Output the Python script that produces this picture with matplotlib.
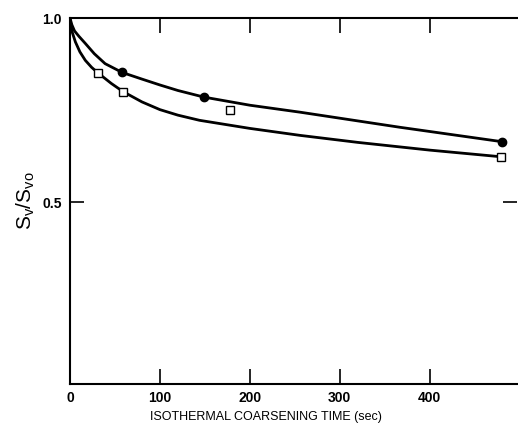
import matplotlib
matplotlib.use("Agg")
import matplotlib.pyplot as plt

# Measured points
circle_t = [0, 58, 149, 480]
circle_v = [1.0, 0.852, 0.785, 0.664]
square_t = [0, 31, 59, 178, 479]
square_v = [1.0, 0.851, 0.800, 0.749, 0.623]

# Fitted curves
upper_t = [0, 2, 5, 10, 17, 27, 39, 58, 80, 100, 120, 149, 200, 256, 367, 480]
upper_v = [1.0, 0.982, 0.965, 0.950, 0.931, 0.903, 0.876, 0.852, 0.834, 0.818,
           0.803, 0.785, 0.763, 0.744, 0.703, 0.664]
lower_t = [0, 2, 6, 11, 17, 24, 31, 46, 59, 80, 100, 120, 144, 200, 256, 320, 400, 479]
lower_v = [1.0, 0.965, 0.935, 0.908, 0.885, 0.866, 0.851, 0.822, 0.800, 0.772,
           0.751, 0.736, 0.722, 0.700, 0.681, 0.662, 0.641, 0.623]

xticks = [0, 100, 200, 300, 400]
xticklabels = ["0", "100", "200", "300", "400"]
yticks = [0.5, 1.0]
yticklabels = ["0.5", "1.0"]

plt.rcParams['font.family'] = ['Liberation Sans', 'DejaVu Sans']
plt.rcParams['mathtext.default'] = 'regular'

W, H = 518, 429
fig = plt.figure(figsize=(W / 100, H / 100), dpi=100)
ax = fig.add_axes([70 / W, 1 - 384 / H, (517 - 70) / W, (384 - 18) / H])

ax.plot(upper_t, upper_v, color='black', lw=2.0, solid_joinstyle='round',
        solid_capstyle='round', zorder=2)
ax.plot(lower_t, lower_v, color='black', lw=2.0, solid_joinstyle='round',
        solid_capstyle='round', zorder=2)
ax.plot(circle_t[1:], circle_v[1:], 'o', color='black', ms=6, zorder=3)
ax.plot(square_t[1:], square_v[1:], 's', mfc='white', mec='black', mew=1.0, ms=6, zorder=3)

ax.set_xlim(0, 497)
ax.set_ylim(0.0055, 1.0)

ax.set_xticks(xticks)
ax.set_xticklabels(xticklabels, fontweight='bold')
ax.set_yticks(yticks)
ax.set_yticklabels(yticklabels, fontweight='bold')

ax.tick_params(axis='x', direction='in', length=11, width=1.2, top=True, pad=5, labelsize=10)
ax.tick_params(axis='y', direction='in', length=10, width=1.2, right=True, pad=6, labelsize=10)

for s in ['left', 'top', 'bottom']:
    ax.spines[s].set_linewidth(1.5)
ax.spines['right'].set_visible(False)

ax.set_xlabel('ISOTHERMAL COARSENING TIME (sec)', fontsize=9)
ax.xaxis.set_label_coords(0.438, -0.074)
ax.set_ylabel('$S_v/S_{vo}$', fontsize=15)
ax.yaxis.set_label_coords(-0.073, 0.5)

fig.savefig('out.png', dpi=100)
